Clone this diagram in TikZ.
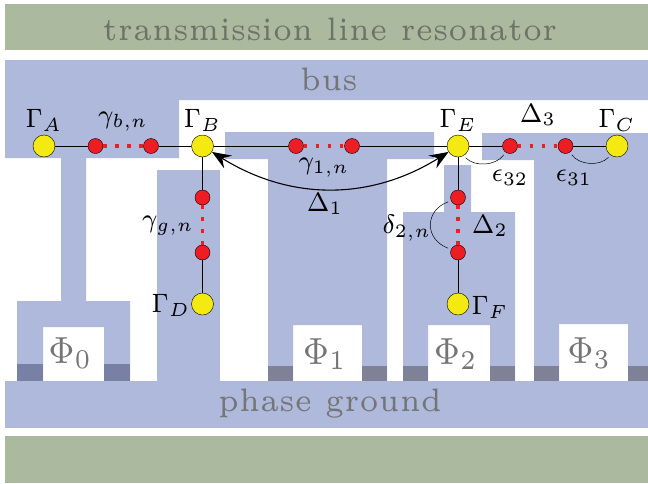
\documentclass[tikz,border=0pt]{standalone}
\usepackage{amsmath}
\usepackage{color}
\usepackage{tikz}
\usetikzlibrary{arrows.meta}
\definecolor{busblue}{HTML}{AEB9DC}
\definecolor{shieldgreen}{HTML}{ABBA9E}
\definecolor{qubityellow}{HTML}{F4EA12}
\definecolor{sitered}{HTML}{EE1D24}
\definecolor{junction}{HTML}{7F8297}
\definecolor{junctionb}{HTML}{7880A5}
\definecolor{plain}{HTML}{757575}
\definecolor{plaingreen}{HTML}{6B7468}

\begin{document}
\begin{tikzpicture}[x=1pt,y=-1pt]
\tikzset{qubit/.style = {shape=circle,draw,fill=qubityellow,minimum size=22pt,inner sep=0pt}}
\tikzset{site/.style = {shape=circle,draw,fill=sitered,minimum size=15pt,inner sep=0pt}}
\tikzset{edge/.style = {line width=0.9pt}}
\tikzset{sites/.style = {sitered,line width=3.3pt,dash pattern=on 3.3pt off 8.7pt}}
\tikzset{bendy/.style = {line width=0.5pt,shorten <=3pt,shorten >=3pt}}
\tikzset{tag/.style = {xscale=3.45,yscale=3.8,inner sep=0pt,font=\scriptsize}}
\tikzset{chip/.style = {xscale=4.6,yscale=5.4,inner sep=0pt,text=plain,font=\scriptsize}}
\tikzset{plate/.style = {xscale=5.62,yscale=6.5,inner sep=0pt,text=plain,font=\tiny}}
\useasboundingbox (0,0) rectangle (648,483);
% shields
\fill[shieldgreen] (5,4) rectangle (648,50);
\fill[shieldgreen] (5,436) rectangle (648,483);
% bus and ground
\fill[busblue] (5,60) -- (648,60) -- (648,100) -- (179,100) -- (179,158) -- (86,158) -- (86,301)
  -- (130,301) -- (130,381) -- (104,381) -- (104,327) -- (43,327) -- (43,381) -- (17,381) -- (17,301)
  -- (61,301) -- (61,158) -- (5,158) -- cycle;
\fill[busblue] (5,381) rectangle (648,428);
% islands
\fill[busblue] (157,170) rectangle (220,381);
\fill[busblue] (225,132) -- (434,132) -- (434,159) -- (387,159) -- (387,381) -- (362,381) -- (362,325)
  -- (293,325) -- (293,381) -- (268,381) -- (268,159) -- (225,159) -- cycle;
\fill[busblue] (444,165) -- (471,165) -- (471,212) -- (515,212) -- (515,381) -- (490,381) -- (490,325)
  -- (428,325) -- (428,381) -- (403,381) -- (403,212) -- (444,212) -- cycle;
\fill[busblue] (482,133) -- (648,133) -- (648,381) -- (628,381) -- (628,324) -- (559,324) -- (559,381)
  -- (534,381) -- (534,160) -- (482,160) -- cycle;
% junctions
\fill[junctionb] (17,364) rectangle (43,381);
\fill[junctionb] (104,364) rectangle (130,381);
\foreach \x/\w in {268/25,362/25,403/25,490/25,534/25,628/20}
  \fill[junction] (\x,366) rectangle (\x+\w,381);
% chip labels
\node[plate,text=plaingreen] (res) at (330,29) {transmission line resonator};
\node[plate] (bus) at (329,79) {bus};
\node[plate] (gnd) at (330,404) {phase ground};
\node[chip] (p0) at (70.5,353) {$\Phi_0$};
\node[chip] (p1) at (325,354) {$\Phi_1$};
\node[chip] (p2) at (456,354) {$\Phi_2$};
\node[chip] (p3) at (589.5,353) {$\Phi_3$};
% vertices
\node[qubit] (a) at (44,146) {};
\node[qubit] (b) at (202.5,146) {};
\node[qubit] (c) at (617,146) {};
\node[qubit] (d) at (202.5,304) {};
\node[qubit] (e) at (458,146) {};
\node[qubit] (f) at (458,304) {};
\node[site] (a1) at (95.5,146) {};
\node[site] (a2) at (151,146) {};
\node[site] (b1) at (296,146) {};
\node[site] (b2) at (352,146) {};
\node[site] (c1) at (510,146) {};
\node[site] (c2) at (565.5,146) {};
\node[site] (d1) at (202.5,197.5) {};
\node[site] (d2) at (202.5,252.5) {};
\node[site] (f1) at (458,197.5) {};
\node[site] (f2) at (458,252.5) {};
%edges
\draw[edge] (a) to (a1);
\draw[edge] (a2) to (b);
\draw[edge] (b) to (b1);
\draw[edge] (b2) to (e);
\draw[edge] (e) to (c1);
\draw[edge] (c2) to (c);
\draw[edge] (b) to (d1);
\draw[edge] (d2) to (d);
\draw[edge] (e) to (f1);
\draw[edge] (f2) to (f);
\draw[sites] (a1) to (a2);
\draw[sites] (b1) to (b2);
\draw[sites] (c1) to (c2);
\draw[sites] (d1) to (d2);
\draw[sites] (f1) to (f2);
\draw[line width=1.1pt,{Stealth[length=19pt,width=15pt,inset=7pt]}-{Stealth[length=19pt,width=15pt,inset=7pt]}]
  (b) to [bend right=32] (e);
\draw[bendy] (e.-60) to [bend right=50] (c1.-125);
\draw[bendy] (c2.-55) to [bend right=50] (c.-125);
\draw[bendy] (f1.-155) to [bend right=70,looseness=1.5] (f2.155);
% labels
\node[tag] (la) at (44,120) {$\Gamma_A$};
\node[tag] (lb) at (202.5,120) {$\Gamma_B$};
\node[tag] (lc) at (617,120) {$\Gamma_C$};
\node[tag] (ld) at (171,305) {$\Gamma_D$};
\node[tag] (le) at (458,120) {$\Gamma_E$};
\node[tag] (lf) at (490,307) {$\Gamma_F$};
\node[tag] (gb) at (123,122) {$\gamma_{b,n}$};
\node[tag] (g1) at (324,168) {$\gamma_{1,n}$};
\node[tag] (gg) at (168,226) {$\gamma_{g,n}$};
\node[tag] (d2n) at (407,228) {$\delta_{2,n}$};
\node[tag] (e32) at (510,178) {$\epsilon_{32}$};
\node[tag] (e31) at (574,178) {$\epsilon_{31}$};
\node[tag] (d1l) at (325,204) {$\Delta_1$};
\node[tag] (d2l) at (490,226) {$\Delta_2$};
\node[tag] (d3l) at (538,115) {$\Delta_3$};
\end{tikzpicture}
\end{document}
